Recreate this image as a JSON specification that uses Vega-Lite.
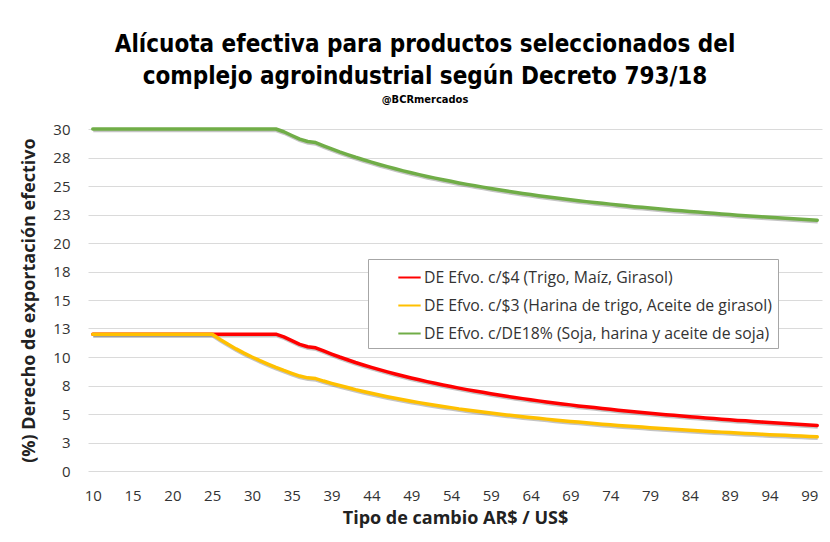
{
  "$schema": "https://vega.github.io/schema/vega-lite/v6.json",
  "autosize": "none",
  "width": 734,
  "height": 342,
  "padding": {"left": 88, "top": 129, "right": 8, "bottom": 71},
  "background": "white",
  "title": {
    "text": ["Alícuota efectiva para productos seleccionados del", "complejo agroindustrial según Decreto 793/18"],
    "subtitle": "@BCRmercados",
    "font": "DejaVu Sans Condensed, Roboto",
    "fontSize": 24,
    "fontWeight": "bold",
    "color": "#000000",
    "lineHeight": 32,
    "subtitleFont": "DejaVu Sans Condensed, Roboto",
    "subtitleFontSize": 11,
    "subtitleFontWeight": "bold",
    "subtitleColor": "#000000",
    "subtitlePadding": 5,
    "anchor": "middle",
    "dx": -30,
    "offset": 17
  },
  "data": {
    "values": [
      {"tc": "10", "r": 12, "y": 12, "g": 30},
      {"tc": "11", "r": 12, "y": 12, "g": 30},
      {"tc": "12", "r": 12, "y": 12, "g": 30},
      {"tc": "13", "r": 12, "y": 12, "g": 30},
      {"tc": "14", "r": 12, "y": 12, "g": 30},
      {"tc": "15", "r": 12, "y": 12, "g": 30},
      {"tc": "16", "r": 12, "y": 12, "g": 30},
      {"tc": "17", "r": 12, "y": 12, "g": 30},
      {"tc": "18", "r": 12, "y": 12, "g": 30},
      {"tc": "19", "r": 12, "y": 12, "g": 30},
      {"tc": "20", "r": 12, "y": 12, "g": 30},
      {"tc": "21", "r": 12, "y": 12, "g": 30},
      {"tc": "22", "r": 12, "y": 12, "g": 30},
      {"tc": "23", "r": 12, "y": 12, "g": 30},
      {"tc": "24", "r": 12, "y": 12, "g": 30},
      {"tc": "25", "r": 12, "y": 12, "g": 30},
      {"tc": "26", "r": 12, "y": 11.54, "g": 30},
      {"tc": "27", "r": 12, "y": 11.11, "g": 30},
      {"tc": "28", "r": 12, "y": 10.71, "g": 30},
      {"tc": "29", "r": 12, "y": 10.34, "g": 30},
      {"tc": "30", "r": 12, "y": 10, "g": 30},
      {"tc": "31", "r": 12, "y": 9.68, "g": 30},
      {"tc": "32", "r": 12, "y": 9.38, "g": 30},
      {"tc": "33", "r": 12, "y": 9.09, "g": 30},
      {"tc": "34", "r": 11.76, "y": 8.82, "g": 29.76},
      {"tc": "35", "r": 11.43, "y": 8.57, "g": 29.43},
      {"tc": "36", "r": 11.11, "y": 8.33, "g": 29.11},
      {"tc": "36.7", "r": 10.9, "y": 8.17, "g": 28.9},
      {"tc": "37", "r": 10.81, "y": 8.11, "g": 28.81},
      {"tc": "38", "r": 10.53, "y": 7.89, "g": 28.53},
      {"tc": "39", "r": 10.26, "y": 7.69, "g": 28.26},
      {"tc": "40", "r": 10, "y": 7.5, "g": 28},
      {"tc": "41", "r": 9.76, "y": 7.32, "g": 27.76},
      {"tc": "42", "r": 9.52, "y": 7.14, "g": 27.52},
      {"tc": "43", "r": 9.3, "y": 6.98, "g": 27.3},
      {"tc": "44", "r": 9.09, "y": 6.82, "g": 27.09},
      {"tc": "45", "r": 8.89, "y": 6.67, "g": 26.89},
      {"tc": "46", "r": 8.7, "y": 6.52, "g": 26.7},
      {"tc": "47", "r": 8.51, "y": 6.38, "g": 26.51},
      {"tc": "48", "r": 8.33, "y": 6.25, "g": 26.33},
      {"tc": "49", "r": 8.16, "y": 6.12, "g": 26.16},
      {"tc": "50", "r": 8, "y": 6, "g": 26},
      {"tc": "51", "r": 7.84, "y": 5.88, "g": 25.84},
      {"tc": "52", "r": 7.69, "y": 5.77, "g": 25.69},
      {"tc": "53", "r": 7.55, "y": 5.66, "g": 25.55},
      {"tc": "54", "r": 7.41, "y": 5.56, "g": 25.41},
      {"tc": "55", "r": 7.27, "y": 5.45, "g": 25.27},
      {"tc": "56", "r": 7.14, "y": 5.36, "g": 25.14},
      {"tc": "57", "r": 7.02, "y": 5.26, "g": 25.02},
      {"tc": "58", "r": 6.9, "y": 5.17, "g": 24.9},
      {"tc": "59", "r": 6.78, "y": 5.08, "g": 24.78},
      {"tc": "60", "r": 6.67, "y": 5, "g": 24.67},
      {"tc": "61", "r": 6.56, "y": 4.92, "g": 24.56},
      {"tc": "62", "r": 6.45, "y": 4.84, "g": 24.45},
      {"tc": "63", "r": 6.35, "y": 4.76, "g": 24.35},
      {"tc": "64", "r": 6.25, "y": 4.69, "g": 24.25},
      {"tc": "65", "r": 6.15, "y": 4.62, "g": 24.15},
      {"tc": "66", "r": 6.06, "y": 4.55, "g": 24.06},
      {"tc": "67", "r": 5.97, "y": 4.48, "g": 23.97},
      {"tc": "68", "r": 5.88, "y": 4.41, "g": 23.88},
      {"tc": "69", "r": 5.8, "y": 4.35, "g": 23.8},
      {"tc": "70", "r": 5.71, "y": 4.29, "g": 23.71},
      {"tc": "71", "r": 5.63, "y": 4.23, "g": 23.63},
      {"tc": "72", "r": 5.56, "y": 4.17, "g": 23.56},
      {"tc": "73", "r": 5.48, "y": 4.11, "g": 23.48},
      {"tc": "74", "r": 5.41, "y": 4.05, "g": 23.41},
      {"tc": "75", "r": 5.33, "y": 4, "g": 23.33},
      {"tc": "76", "r": 5.26, "y": 3.95, "g": 23.26},
      {"tc": "77", "r": 5.19, "y": 3.9, "g": 23.19},
      {"tc": "78", "r": 5.13, "y": 3.85, "g": 23.13},
      {"tc": "79", "r": 5.06, "y": 3.8, "g": 23.06},
      {"tc": "80", "r": 5, "y": 3.75, "g": 23},
      {"tc": "81", "r": 4.94, "y": 3.7, "g": 22.94},
      {"tc": "82", "r": 4.88, "y": 3.66, "g": 22.88},
      {"tc": "83", "r": 4.82, "y": 3.61, "g": 22.82},
      {"tc": "84", "r": 4.76, "y": 3.57, "g": 22.76},
      {"tc": "85", "r": 4.71, "y": 3.53, "g": 22.71},
      {"tc": "86", "r": 4.65, "y": 3.49, "g": 22.65},
      {"tc": "87", "r": 4.6, "y": 3.45, "g": 22.6},
      {"tc": "88", "r": 4.55, "y": 3.41, "g": 22.55},
      {"tc": "89", "r": 4.49, "y": 3.37, "g": 22.49},
      {"tc": "90", "r": 4.44, "y": 3.33, "g": 22.44},
      {"tc": "91", "r": 4.4, "y": 3.3, "g": 22.4},
      {"tc": "92", "r": 4.35, "y": 3.26, "g": 22.35},
      {"tc": "93", "r": 4.3, "y": 3.23, "g": 22.3},
      {"tc": "94", "r": 4.26, "y": 3.19, "g": 22.26},
      {"tc": "95", "r": 4.21, "y": 3.16, "g": 22.21},
      {"tc": "96", "r": 4.17, "y": 3.13, "g": 22.17},
      {"tc": "97", "r": 4.12, "y": 3.09, "g": 22.12},
      {"tc": "98", "r": 4.08, "y": 3.06, "g": 22.08},
      {"tc": "99", "r": 4.04, "y": 3.03, "g": 22.04},
      {"tc": "100", "r": 4, "y": 3, "g": 22}
    ]
  },
  "transform": [{"fold": ["r", "y", "g"], "as": ["serie", "v"]}],
  "encoding": {
    "x": {
      "field": "tc",
      "type": "ordinal",
      "sort": null,
      "scale": {"type": "point", "padding": 0.6},
      "axis": {
        "values": ["10", "15", "20", "25", "30", "35", "39", "44", "49", "54", "59", "64", "69", "74", "79", "84", "89", "94", "99"],
        "title": "Tipo de cambio AR$ / US$",
        "titleFont": "Open Sans",
        "titleFontSize": 18,
        "titleFontWeight": "bold",
        "titleColor": "#222222",
        "titlePadding": 6,
        "labelFont": "Open Sans",
        "labelFontSize": 15,
        "labelColor": "#333333",
        "labelAngle": 0,
        "labelPadding": 17,
        "grid": false,
        "domain": false,
        "ticks": false
      }
    },
    "y": {
      "field": "v",
      "type": "quantitative",
      "scale": {"domain": [0, 30], "nice": false, "zero": true},
      "axis": {
        "values": [0, 2.5, 5, 7.5, 10, 12.5, 15, 17.5, 20, 22.5, 25, 27.5, 30],
        "format": ".0f",
        "title": "(%) Derecho de exportación efectivo",
        "titleFont": "Open Sans",
        "titleFontSize": 18,
        "titleFontWeight": "bold",
        "titleColor": "#222222",
        "titlePadding": 14,
        "labelFont": "Open Sans",
        "labelFontSize": 15,
        "labelColor": "#333333",
        "labelPadding": 18,
        "grid": true,
        "gridColor": "#DADADA",
        "gridWidth": 1,
        "domain": false,
        "ticks": false
      }
    }
  },
  "layer": [
    {
      "mark": {"type": "line", "strokeWidth": 3.5, "strokeJoin": "round", "color": "#555555", "opacity": 0.35, "yOffset": 1.5, "xOffset": 0.5},
      "encoding": {"detail": {"field": "serie", "type": "nominal"}}
    },
    {
      "mark": {"type": "line", "strokeWidth": 3.5, "strokeJoin": "round", "strokeCap": "round"},
      "encoding": {
        "color": {
          "field": "serie",
          "type": "nominal",
          "sort": ["r", "y", "g"],
          "scale": {"domain": ["r", "y", "g"], "range": ["#FF0000", "#FFC000", "#70AD47"]},
          "legend": {
            "title": null,
            "orient": "none",
            "legendX": 280,
            "legendY": 130,
            "padding": 6,
            "strokeColor": "#A6A6A6",
            "fillColor": "#FFFFFF",
            "symbolType": "stroke",
            "symbolSize": 500,
            "symbolStrokeWidth": 2,
            "symbolOffset": 23,
            "labelOffset": 2,
            "labelFont": "Open Sans",
            "labelFontSize": 15.8,
            "labelColor": "#333333",
            "labelLimit": 500,
            "rowPadding": 7,
            "labelExpr": "datum.label == 'r' ? 'DE Efvo. c/$4 (Trigo, Maíz, Girasol)' : datum.label == 'y' ? 'DE Efvo. c/$3 (Harina de trigo, Aceite de girasol)' : 'DE Efvo. c/DE18% (Soja, harina y aceite de soja)'"
          }
        }
      }
    }
  ],
  "config": {"view": {"stroke": null}}
}
